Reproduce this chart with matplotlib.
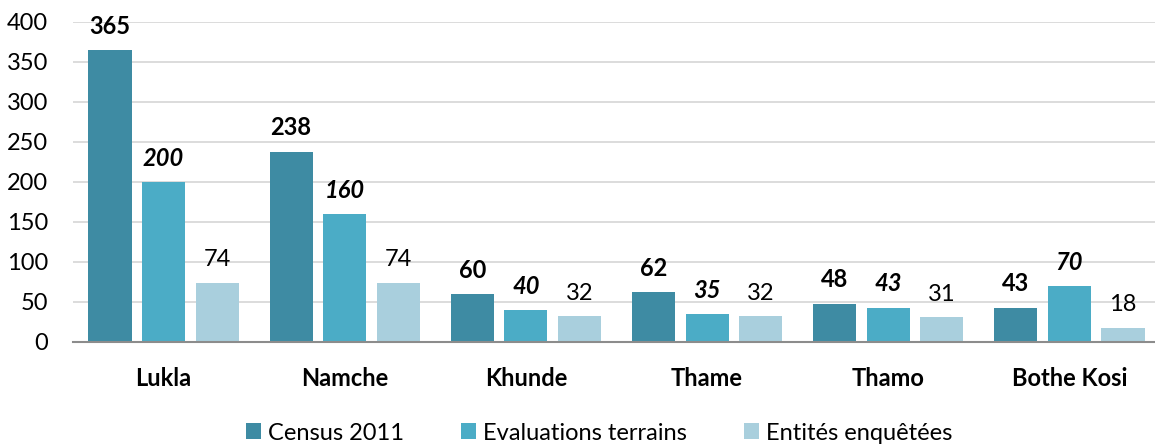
import matplotlib
matplotlib.use("Agg")
import matplotlib.pyplot as plt
import numpy as np

categories = ["Lukla", "Namche", "Khunde", "Thame", "Thamo", "Bothe Kosi"]
census = [365, 238, 60, 62, 48, 43]
evaluations = [200, 160, 40, 35, 43, 70]
entites = [74, 74, 32, 32, 31, 18]
series_names = ["Census 2011", "Evaluations terrains", "Entités enquêtées"]
yticks = [0, 50, 100, 150, 200, 250, 300, 350, 400]

plt.rcParams['font.family'] = ['Lato', 'DejaVu Sans']

fig = plt.figure(figsize=(11.55, 4.46), dpi=100)
ax = fig.add_axes([73/1155, 104/446, (1160-73)/1155, 320/446])

colors = ["#3E8BA3", "#4BACC6", "#A9CFDD"]
x = np.arange(len(categories))
w = 0.238
off = 0.296
styles = [dict(weight='bold', style='normal'),
          dict(weight='bold', style='italic'),
          dict(weight='normal', style='normal')]
bars_all = []
for i, (vals, c, name) in enumerate(zip([census, evaluations, entites], colors, series_names)):
    bars = ax.bar(x + (i - 1) * off, vals, width=w, color=c, label=name, zorder=3)
    bars_all.append(bars)
    for xi, v in zip(x + (i - 1) * off, vals):
        ax.annotate(str(v), (xi, v), xytext=(0, 9), textcoords='offset points',
                    ha='center', va='bottom', fontsize=17, color='black', **styles[i])

ax.set_xlim(-0.5, 5.5)
ax.set_ylim(0, 400)
ax.set_yticks(yticks)
ax.set_xticks(x)
ax.set_xticklabels(categories, fontsize=17, fontweight='bold')
ax.tick_params(axis='y', labelsize=17, length=0, pad=18)
ax.tick_params(axis='x', length=0, pad=18)
ax.grid(axis='y', color='#D9D9D9', linewidth=1.3, zorder=0)
for s in ['top', 'right', 'left']:
    ax.spines[s].set_visible(False)
ax.spines['bottom'].set_color('#8C8C8C')
ax.spines['bottom'].set_linewidth(1.5)
ax.spines['bottom'].set_zorder(4)

leg = fig.legend(handles=bars_all, labels=series_names, loc='center', bbox_to_anchor=(599/1155, 13/446),
                 ncol=3, frameon=False, fontsize=17, handlelength=0.65, handleheight=0.65,
                 columnspacing=2.4, handletextpad=0.3)

fig.savefig("out.png", dpi=100)
